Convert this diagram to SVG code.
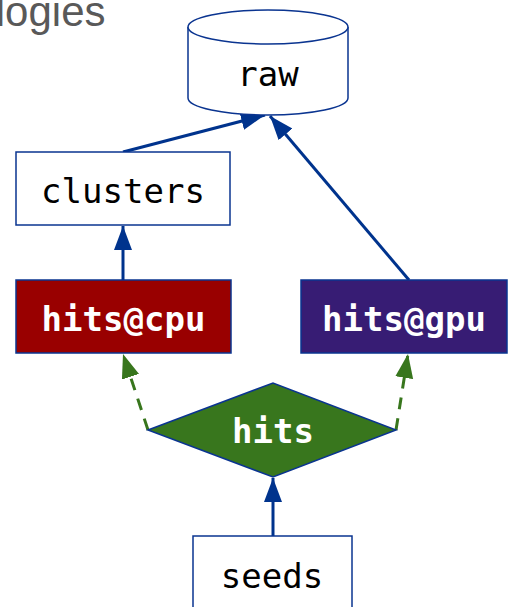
<svg xmlns="http://www.w3.org/2000/svg" width="508" height="607" viewBox="0 0 508 607">
<style>
.box{stroke:#0a3490;stroke-width:1.5}
.lbl{font-family:"DejaVu Sans Mono",monospace;font-size:34px;text-anchor:middle}
.b{font-weight:bold;fill:#fff}
.e{stroke:#00338d;stroke-width:3;fill:none}
.d{stroke:#38761d;stroke-width:3;fill:none;stroke-dasharray:12 9}
</style>
<defs>
<marker id="ab" markerUnits="userSpaceOnUse" markerWidth="26" markerHeight="20" refX="24" refY="9" orient="auto"><path d="M0,0 L24,9 L0,18 Z" fill="#00338d"/></marker>
<marker id="ag" markerUnits="userSpaceOnUse" markerWidth="26" markerHeight="20" refX="24" refY="9" orient="auto"><path d="M0,0 L24,9 L0,18 Z" fill="#38761d"/></marker>
</defs>
<text x="105.5" y="25.5" font-family="Liberation Sans, Arial, sans-serif" font-size="42" fill="#595959" text-anchor="end">logies</text>
<g id="connectors">
<path class="e" d="M123,152 L265,115" stroke-width="4" marker-end="url(#ab)"/>
<path class="e" d="M409,280 L270,116" marker-end="url(#ab)"/>
<path class="e" d="M123,280 L123,226" marker-end="url(#ab)"/>
<path class="d" d="M148,430 L123,354" marker-end="url(#ag)"/>
<path class="d" d="M396,430 L408,354" marker-end="url(#ag)"/>
<path class="e" d="M273,536 L273,478" marker-end="url(#ab)"/>
</g>
<g id="raw">
<path class="box" fill="#fff" d="M188,27 L188,98 A80,17 0 0 0 348,98 L348,27"/>
<ellipse class="box" fill="#fff" cx="268" cy="27" rx="80" ry="17"/>
<text class="lbl" x="268" y="86">raw</text>
</g>
<g id="clusters">
<rect class="box" fill="#fff" x="16" y="152" width="214" height="73"/>
<text class="lbl" x="123" y="203">clusters</text>
</g>
<g id="hits_cpu">
<rect class="box" fill="#990000" x="16" y="280" width="215" height="73"/>
<text class="lbl b" x="123.5" y="331">hits@cpu</text>
</g>
<g id="hits_gpu">
<rect class="box" fill="#371c74" x="301" y="280" width="206" height="73"/>
<text class="lbl b" x="404" y="331">hits@gpu</text>
</g>
<g id="hits">
<path class="box" fill="#38761d" d="M148,430 L273,383 L396,430 L273,477 Z"/>
<text class="lbl b" x="273" y="443">hits</text>
</g>
<g id="seeds">
<rect class="box" fill="#fff" x="193" y="536" width="159" height="74"/>
<text class="lbl" x="272" y="588">seeds</text>
</g>
</svg>
